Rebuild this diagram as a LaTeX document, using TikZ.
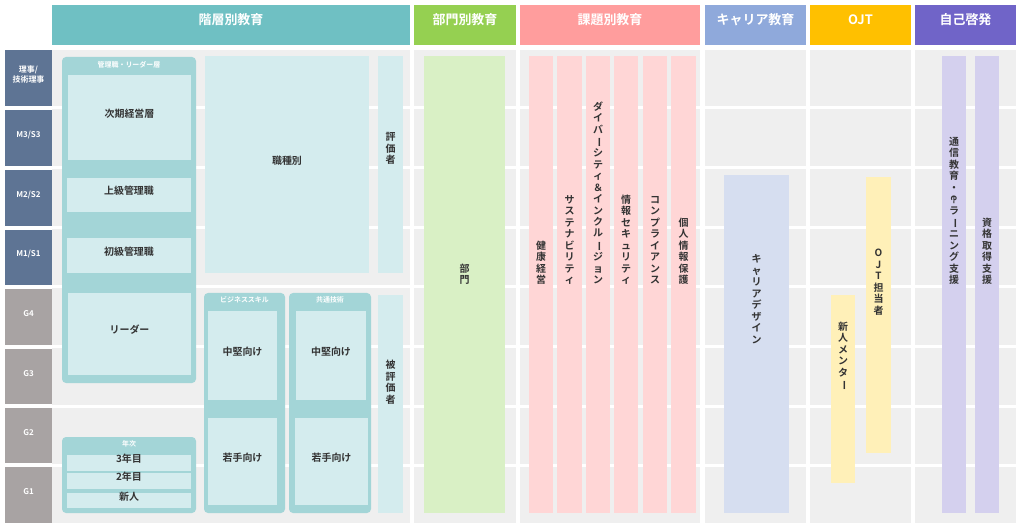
\documentclass[tikz,border=0pt]{standalone}
\usepackage{fontspec}
\setmainfont{Noto Sans CJK JP}[BoldFont={* Bold}]
\usepackage{graphicx}
\usetikzlibrary{fit}

\definecolor{hdrteal}{HTML}{6FC0C3}
\definecolor{hdrgreen}{HTML}{95D051}
\definecolor{hdrpink}{HTML}{FF9D9D}
\definecolor{hdrblue}{HTML}{8FA9DB}
\definecolor{hdrorange}{HTML}{FFC000}
\definecolor{hdrpurple}{HTML}{7064C8}
\definecolor{rowblue}{HTML}{5E7494}
\definecolor{rowgrey}{HTML}{A8A3A3}
\definecolor{bggrey}{HTML}{EFEFEF}
\definecolor{tealdark}{HTML}{A3D5D7}
\definecolor{teallight}{HTML}{D4ECEE}
\definecolor{greenlight}{HTML}{D9F0C5}
\definecolor{pinklight}{HTML}{FFD6D6}
\definecolor{bluelight}{HTML}{D6DEF0}
\definecolor{yellowlight}{HTML}{FFF0B8}
\definecolor{purplelight}{HTML}{D4D0EE}
\definecolor{ink}{HTML}{333333}

% vertical (tate) text, one character per line
\def\tatechar#1{\ifx#1ー\rotatebox[origin=c]{-90}{ー}\else#1\fi}
\def\tateloop#1{\ifx#1\relax\else
  \hbox to 1.1em{\hss\vrule height .95em depth .2em width 0pt\tatechar#1\hss}%
  \expandafter\tateloop\fi}
\newcommand\tate[1]{\vbox{\offinterlineskip\tateloop#1\relax}}
\def\emark{\rotatebox[origin=c]{-90}{e-}}

\tikzset{
  hdr/.style={fill=#1, inner sep=0pt, text=white, font=\bfseries\fontsize{13}{13}\selectfont},
  lvl/.style={fill=#1, inner sep=0pt, text=white, font=\bfseries\fontsize{8}{10}\selectfont, align=center},
  group/.style={fill=tealdark, rounded corners=4bp, inner sep=0pt},
  cell/.style={fill=#1, inner sep=0pt, text=ink, font=\bfseries\fontsize{10}{12}\selectfont, align=center},
  cell/.default=teallight,
  grouptitle/.style={text=white, font=\bfseries\fontsize{7}{8}\selectfont, inner sep=0pt, below, yshift=-4bp},
}

\begin{document}
\begin{tikzpicture}[x=1bp, y=-1bp]
\useasboundingbox (0,0) rectangle (1024,527);

% headers
\node[hdr=hdrteal, fit={(52,5)(410,45)}] (hkaiso) {階層別教育};
\node[hdr=hdrgreen, fit={(414,5)(516,45)}] (hbumon) {部門別教育};
\node[hdr=hdrpink, fit={(520,5)(700,45)}] (hkadai) {課題別教育};
\node[hdr=hdrblue, fit={(705,5)(806,45)}] (hcareer) {キャリア教育};
\node[hdr=hdrorange, fit={(810,5)(911,45)}] (hojt) {OJT};
\node[hdr=hdrpurple, fit={(915,5)(1016,45)}] (hjiko) {自己啓発};

% column backgrounds
\foreach \xa/\xb in {52/410, 414/516, 520/700, 705/806, 810/911, 915/1016}
  \fill[bggrey] (\xa,50) rectangle (\xb,523);
\foreach \y in {108,168,228,287,347,406,465}
  \draw[white, line width=3bp] (52,\y) -- (1016,\y);

% levels
\node[lvl=rowblue, fit={(5,50)(52,106)}] (lriji) {理事/\\技術理事};
\node[lvl=rowblue, fit={(5,110)(52,166)}] (lm3) {M3/S3};
\node[lvl=rowblue, fit={(5,170)(52,226)}] (lm2) {M2/S2};
\node[lvl=rowblue, fit={(5,230)(52,285)}] (lm1) {M1/S1};
\node[lvl=rowgrey, fit={(5,289)(52,345)}] (lg4) {G4};
\node[lvl=rowgrey, fit={(5,349)(52,404)}] (lg3) {G3};
\node[lvl=rowgrey, fit={(5,408)(52,463)}] (lg2) {G2};
\node[lvl=rowgrey, fit={(5,467)(52,523)}] (lg1) {G1};

% 階層別教育
\node[group, fit={(62,57)(196,383)}] (kanri) {};
\node[grouptitle] at (kanri.north) {管理職・リーダー層};
\node[cell, fit={(68,75)(191,160)}] (jiki) {次期経営層};
\node[cell, fit={(67,178)(191,212)}] (joukyu) {上級管理職};
\node[cell, fit={(67,238)(191,273)}] (shokyu) {初級管理職};
\node[cell, fit={(68,293)(191,375)}] (leader) {リーダー};
\node[group, fit={(62,437)(196,513)}] (nenji) {};
\node[grouptitle] at (nenji.north) {年次};
\node[cell, fit={(67,455)(191,471)}] (y3) {3年目};
\node[cell, fit={(67,473)(191,489)}] (y2) {2年目};
\node[cell, fit={(67,493)(191,508)}] (y1) {新人};
\node[cell, fit={(205,56)(369,273)}] (shokushu) {職種別};
\node[group, fit={(204,293)(285,513)}] (biz) {};
\node[grouptitle] at (biz.north) {ビジネススキル};
\node[cell, fit={(208,311)(277,400)}] (bizmid) {中堅向け};
\node[cell, fit={(208,418)(277,505)}] (bizjr) {若手向け};
\node[group, fit={(289,293)(371,513)}] (tech) {};
\node[grouptitle] at (tech.north) {共通技術};
\node[cell, fit={(296,311)(366,400)}] (techmid) {中堅向け};
\node[cell, fit={(295,418)(368,505)}] (techjr) {若手向け};
\node[cell, fit={(378,56)(403,273)}] (hyoka) {\tate{評価者}};
\node[cell, fit={(378,295)(403,513)}] (hihyoka) {\tate{被評価者}};

% 部門別教育
\node[cell=greenlight, fit={(424,56)(505,513)}] (bumon) {\tate{部門}};

% 課題別教育
\node[cell=pinklight, fit={(529,56)(553,513)}] (k1) {\tate{健康経営}};
\node[cell=pinklight, fit={(557,56)(582,513)}] (k2) {\tate{サステナビリティ}};
\node[cell=pinklight, fit={(586,56)(610,513)}] (k3) {\tate{ダイバーシティ＆インクルージョン}};
\node[cell=pinklight, fit={(614,56)(638,513)}] (k4) {\tate{情報セキュリティ}};
\node[cell=pinklight, fit={(643,56)(667,513)}] (k5) {\tate{コンプライアンス}};
\node[cell=pinklight, fit={(671,56)(696,513)}] (k6) {\tate{個人情報保護}};

% キャリア教育
\node[cell=bluelight, fit={(724,175)(789,513)}] (design) {\tate{キャリアデザイン}};

% OJT
\node[cell=yellowlight, fit={(831,295)(855,483)}] (mentor) {\tate{新人メンター}};
\node[cell=yellowlight, fit={(866,177)(891,453)}] (tanto) {\tate{OJT担当者}};

% 自己啓発
\node[cell=purplelight, fit={(942,56)(966,513)}] (elearn) {\tate{通信教育・\emark ラーニング支援}};
\node[cell=purplelight, fit={(975,56)(999,513)}] (shikaku) {\tate{資格取得支援}};
\end{tikzpicture}
\end{document}
